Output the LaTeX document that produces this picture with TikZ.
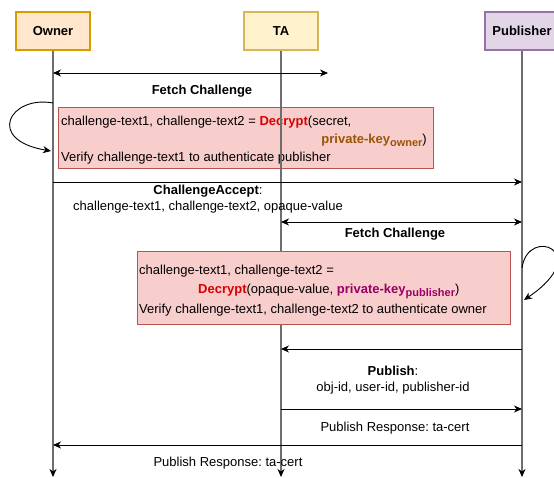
\documentclass[tikz,border=0pt]{standalone}
\usepackage{fontspec}
\setmainfont{Liberation Sans}
\usetikzlibrary{arrows.meta}
\frenchspacing
\definecolor{ownerfill}{HTML}{FFE6CC}
\definecolor{ownerdraw}{HTML}{D79B00}
\definecolor{tafill}{HTML}{FFF2CC}
\definecolor{tadraw}{HTML}{D6B656}
\definecolor{pubfill}{HTML}{E1D5E7}
\definecolor{pubdraw}{HTML}{9673A6}
\definecolor{notefill}{HTML}{F8CECC}
\definecolor{notedraw}{HTML}{B85450}
\definecolor{decryptred}{HTML}{D80000}
\definecolor{keyowner}{HTML}{99540A}
\definecolor{keypub}{HTML}{990066}
\definecolor{lifegray}{HTML}{6E6E6E}
\newcommand{\dec}{\textbf{\color{decryptred}Decrypt}}
\newcommand{\keyof}[2]{\textbf{\color{#1}private-key\raisebox{-3pt}{\fontsize{11}{12}\selectfont #2}}}
\tikzset{
  actor/.style={draw, line width=1.5pt, minimum width=74pt, minimum height=38pt,
    font=\fontsize{13}{16}\selectfont\bfseries},
  life/.style={draw=lifegray, line width=1.2pt, -{Stealth[length=8pt,width=7pt,inset=2.5pt,color=black]}},
  msg/.style={line width=0.9pt, -{Stealth[length=8pt,width=7pt,inset=2.5pt]}},
  bimsg/.style={line width=0.9pt, {Stealth[length=8pt,width=7pt,inset=2.5pt]}-{Stealth[length=8pt,width=7pt,inset=2.5pt]}},
  notebox/.style={draw=notedraw, fill=notefill, line width=1pt, inner sep=0pt},
  lbl/.style={inner sep=0pt, align=center},
  ltext/.style={inner sep=0pt, anchor=base west},
}
\begin{document}
\begin{tikzpicture}[x=1pt, y=-1pt, font=\fontsize{13}{16}\selectfont]
\useasboundingbox (0,0) rectangle (554,478);

% participants
\node[actor, fill=ownerfill, draw=ownerdraw] (owner) at (53,31) {Owner};
\node[actor, fill=tafill, draw=tadraw] (ta) at (281,31) {TA};
\node[actor, fill=pubfill, draw=pubdraw] (pub) at (522,31) {Publisher};

\coordinate (ownerEnd) at (53,477);
\coordinate (taEnd) at (281,477);
\coordinate (pubEnd) at (522,477);

% first note sits behind the TA lifeline
\node[notebox, minimum width=375pt, minimum height=61pt] (note1) at (245.5,138.5) {};
\node[ltext] (n1a) at (61,126) {challenge-text1, challenge-text2 = \dec(secret,};
\node[ltext, anchor=base east] (n1b) at (427,144) {\keyof{keyowner}{owner})};
\node[ltext] (n1c) at (61,162) {Verify challenge-text1 to authenticate publisher};

% lifelines
\draw[life] (owner.south) -- (ownerEnd);
\draw[life] (ta.south) -- (taEnd);
\draw[life] (pub.south) -- (pubEnd);

% second note drawn over the TA lifeline
\node[notebox, minimum width=373pt, minimum height=72pt] (note2) at (323.5,288) {};
\node[ltext] (n2a) at (139,275) {challenge-text1, challenge-text2 =};
\node[ltext] (n2b) at (198,294) {\dec(opaque-value, \keyof{keypub}{publisher})};
\node[ltext] (n2c) at (139,313) {Verify challenge-text1, challenge-text2 to authenticate owner};

% Fetch Challenge (owner side)
\coordinate (fc1a) at (53,73);
\coordinate (fc1b) at (328,73);
\draw[bimsg] (fc1a) -- (fc1b);
\node[lbl, font=\fontsize{13}{16}\selectfont\bfseries] (fc1lbl) at (202,91) {Fetch Challenge};

% owner self loop
\coordinate (ol1) at (53,103);
\coordinate (ol2) at (51,151);
\draw[msg] (ol1) .. controls (10,95) and (-15,140) .. (ol2);

% ChallengeAccept
\coordinate (ca1) at (53,182);
\coordinate (ca2) at (522,182);
\draw[msg] (ca1) -- (ca2);
\node[lbl] (calbl) at (208,199) {\textbf{ChallengeAccept}:\\challenge-text1, challenge-text2, opaque-value};

% Fetch Challenge (publisher side)
\coordinate (fc2a) at (281,222);
\coordinate (fc2b) at (522,222);
\draw[bimsg] (fc2a) -- (fc2b);
\node[lbl, font=\fontsize{13}{16}\selectfont\bfseries] (fc2lbl) at (395,234) {Fetch Challenge};

% publisher self loop
\coordinate (pl1) at (522,268);
\coordinate (pl2) at (524,300);
\draw[msg] (pl1) .. controls (528,225) and (595,252) .. (pl2);

% Publish
\coordinate (p1) at (522,349);
\coordinate (p2) at (281,349);
\draw[msg] (p1) -- (p2);
\node[lbl] (plbl) at (393,380) {\textbf{Publish}:\\obj-id, user-id, publisher-id};

% Publish Response to publisher
\coordinate (r1) at (281,409);
\coordinate (r2) at (522,409);
\draw[msg] (r1) -- (r2);
\node[lbl] (r1lbl) at (395,428) {Publish Response: ta-cert};

% Publish Response to owner
\coordinate (s1) at (522,445);
\coordinate (s2) at (53,445);
\draw[msg] (s1) -- (s2);
\node[lbl] (s1lbl) at (228,463) {Publish Response: ta-cert};
\end{tikzpicture}
\end{document}
